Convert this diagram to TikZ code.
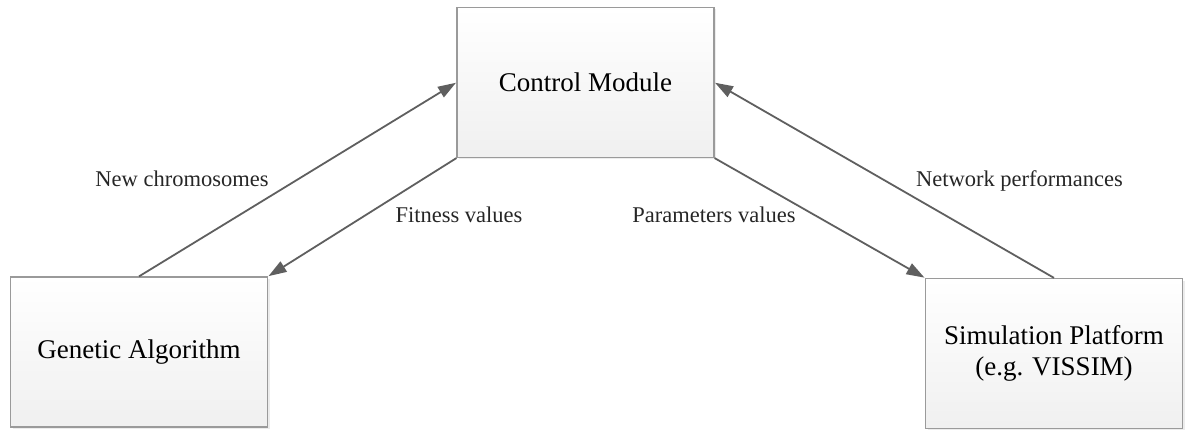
\documentclass[tikz,border=0pt]{standalone}
\usepackage{fontspec}
\setmainfont{Liberation Serif}
\usetikzlibrary{arrows.meta,shadows}
\definecolor{edgegray}{HTML}{5F5F5F}
\definecolor{boxline}{HTML}{9A9A9A}
\tikzset{
  modulebox/.style={draw=boxline, line width=1.2pt, top color=white, bottom color=black!6,
    minimum width=257pt, minimum height=150pt, align=center, inner sep=0pt,
    font=\fontsize{27}{31}\selectfont,
    drop shadow={shadow xshift=2pt, shadow yshift=-2pt, fill=black!12, opacity=0.6}},
  flow/.style={draw=edgegray, line width=1.8pt, -{Triangle[length=18pt,width=12pt]}, shorten >=0.5pt},
  flowlabel/.style={anchor=base, inner sep=0pt, font=\fontsize{22.5}{26}\selectfont, text=black!85}
}
\begin{document}
\begin{tikzpicture}[x=1pt,y=-1pt]
  \useasboundingbox (0,0) rectangle (1190,430);
  % the three modules
  \node[modulebox] (cm) at (585.5,82.5) {Control Module};
  \node[modulebox] (ga) at (139,352) {Genetic Algorithm};
  \node[modulebox] (sp) at (1054,353.5) {Simulation Platform\\(e.g. VISSIM)};
  % data exchanged between them
  \draw[flow] (ga.north) -- (cm.west);
  \draw[flow] (cm.south west) -- (ga.north east);
  \draw[flow] (cm.south east) -- (sp.north west);
  \draw[flow] (sp.north) -- (cm.east);
  % labels of the exchanged data
  \node[flowlabel] (l1) at (182,187) {New chromosomes};
  \node[flowlabel] (l2) at (459,223) {Fitness values};
  \node[flowlabel] (l3) at (714,223) {Parameters values};
  \node[flowlabel] (l4) at (1019.5,187) {Network performances};
\end{tikzpicture}
\end{document}
